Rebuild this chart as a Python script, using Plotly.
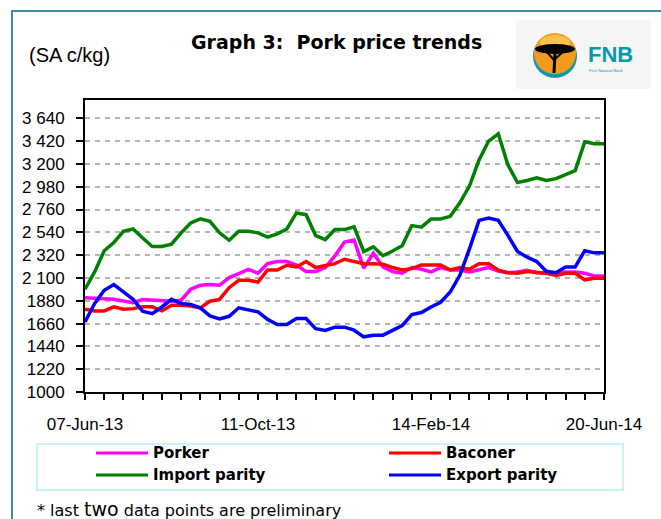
import pandas as pd
import plotly.graph_objects as go

# ---------------- data ----------------
start_date = "2013-06-07"
n_weeks = 55
dates = pd.date_range(start_date, periods=n_weeks, freq="7D")

porker = [1910, 1907, 1901, 1894, 1878, 1862, 1891, 1885, 1875, 1875,
          1885, 1991, 2029, 2036, 2029, 2103, 2141, 2183, 2145, 2238,
          2258, 2258, 2225, 2161, 2161, 2200, 2312, 2447, 2466, 2193,
          2338, 2206, 2161, 2145, 2200, 2184, 2158, 2200, 2177, 2177,
          2158, 2177, 2200, 2167, 2151, 2158, 2174, 2151, 2145, 2145,
          2158, 2158, 2145, 2119, 2119]

baconer = [1798, 1782, 1782, 1821, 1798, 1804, 1821, 1821, 1782, 1837,
           1837, 1830, 1811, 1875, 1893, 2006, 2077, 2077, 2061, 2177,
           2177, 2222, 2206, 2258, 2200, 2222, 2238, 2280, 2255, 2238,
           2238, 2232, 2200, 2177, 2190, 2225, 2225, 2225, 2177, 2200,
           2184, 2238, 2238, 2174, 2151, 2145, 2161, 2151, 2145, 2125,
           2145, 2145, 2080, 2096, 2096]

import_parity = [1991, 2158, 2362, 2442, 2550, 2572, 2485, 2403, 2403, 2425,
                 2535, 2630, 2670, 2645, 2535, 2463, 2550, 2550, 2535, 2494,
                 2525, 2572, 2727, 2710, 2509, 2470, 2566, 2566, 2592, 2355,
                 2400, 2314, 2360, 2410, 2605, 2590, 2668, 2668, 2694, 2824,
                 2986, 3238, 3420, 3490, 3190, 3020, 3040, 3065, 3040, 3058,
                 3096, 3135, 3414, 3395, 3395]

export_parity = [1676, 1853, 1981, 2036, 1965, 1894, 1779, 1756, 1820, 1894,
                 1853, 1843, 1811, 1734, 1705, 1730, 1812, 1790, 1773, 1700,
                 1650, 1650, 1708, 1708, 1610, 1593, 1625, 1625, 1596, 1532,
                 1548, 1548, 1593, 1640, 1747, 1766, 1820, 1866, 1964, 2125,
                 2380, 2655, 2678, 2655, 2510, 2355, 2300, 2258, 2164, 2150,
                 2206, 2206, 2363, 2342, 2342]

series_names = ["Porker", "Baconer", "Import parity", "Export parity"]
series_values = [porker, baconer, import_parity, export_parity]
series_colors = ["#ff00ff", "#ff0000", "#008000", "#0000ff"]

y_tick_values = [1000, 1220, 1440, 1660, 1880, 2100, 2320, 2540, 2760, 2980, 3200, 3420, 3640]
y_tick_labels = ["1000", "1220", "1440", "1660", "1880", "2 100", "2 320", "2 540",
                 "2 760", "2 980", "3 200", "3 420", "3 640"]
x_label_weeks = [0, 18, 36, 54]

title_text = "Graph 3:  Pork price trends"
unit_text = "(SA c/kg)"
footnote_html = "* last <span style='font-size:19px'>two</span> data points are preliminary"

# ---------------- geometry helpers ----------------
W, H = 661, 519
L, R, T, B = 85, 604, 100, 392


def px(x):
    return (x - L) / (R - L)


def py(y):
    return (B - y) / (B - T)


fig = go.Figure()
for name, vals, col in zip(series_names, series_values, series_colors):
    fig.add_trace(go.Scatter(x=dates, y=vals, mode="lines", name=name,
                             line=dict(color=col, width=3.5), showlegend=False))

x_tickvals = list(dates[::2])
x_ticktext = [dates[i].strftime("%d-%b-%y") if i in x_label_weeks else "" for i in range(0, n_weeks, 2)]

tick_font = dict(family="Liberation Sans, Arial, sans-serif", size=17, color="black")

fig.update_xaxes(
    type="date", range=[dates[0], dates[-1]],
    tickmode="array", tickvals=x_tickvals, ticktext=x_ticktext,
    ticks="outside", ticklen=6, tickwidth=1.5, tickcolor="black",
    showline=True, linecolor="black", linewidth=2, mirror=True,
    showgrid=False, zeroline=False, tickfont=tick_font, ticklabelstandoff=10,
)
fig.update_yaxes(
    range=[1000, 3816],
    tickmode="array", tickvals=y_tick_values, ticktext=y_tick_labels,
    ticks="outside", ticklen=7, tickwidth=1.5, tickcolor="black",
    showline=True, linecolor="black", linewidth=2, mirror=True,
    showgrid=True, gridcolor="#b4b4b4", gridwidth=2, griddash="5px,5px",
    zeroline=False, tickfont=tick_font, ticklabelstandoff=8,
)

shapes = []
annotations = []

# outer frame
shapes.append(dict(type="rect", xref="paper", yref="paper", x0=px(12), x1=px(720),
                   y0=py(11), y1=py(580), line=dict(color="#3d8fa3", width=2), layer="below"))

# logo
shapes.append(dict(type="rect", xref="paper", yref="paper", x0=px(516), x1=px(651),
                   y0=py(20), y1=py(89), fillcolor="#f6f6f6", line=dict(width=0), layer="below"))
shapes.append(dict(type="circle", xref="paper", yref="paper", x0=px(533), x1=px(577),
                   y0=py(34), y1=py(78), fillcolor="#0b98ad", line=dict(width=0)))
shapes.append(dict(type="circle", xref="paper", yref="paper", x0=px(534), x1=px(576),
                   y0=py(33), y1=py(74), fillcolor="#f49a1c", line=dict(width=0)))
shapes.append(dict(type="circle", xref="paper", yref="paper", x0=px(540), x1=px(570),
                   y0=py(35), y1=py(50), fillcolor="#fbc24a", line=dict(width=0)))
shapes.append(dict(type="circle", xref="paper", yref="paper", x0=px(535), x1=px(575),
                   y0=py(44), y1=py(54), fillcolor="black", line=dict(width=0)))
shapes.append(dict(type="line", xref="paper", yref="paper", x0=px(555), x1=px(554),
                   y0=py(52), y1=py(73), line=dict(color="black", width=3)))
shapes.append(dict(type="line", xref="paper", yref="paper", x0=px(554), x1=px(546),
                   y0=py(60), y1=py(51), line=dict(color="black", width=2)))
shapes.append(dict(type="line", xref="paper", yref="paper", x0=px(555), x1=px(564),
                   y0=py(59), y1=py(51), line=dict(color="black", width=2)))

annotations.append(dict(xref="paper", yref="paper", x=px(586), y=py(55), xanchor="left",
                        yanchor="middle", text="<b>FNB</b>", showarrow=False,
                        font=dict(family="Liberation Sans, Arial, sans-serif", size=22, color="#0b98ad")))
annotations.append(dict(xref="paper", yref="paper", x=px(587), y=py(70), xanchor="left",
                        yanchor="middle", text="First National Bank", showarrow=False,
                        font=dict(family="Liberation Sans, Arial, sans-serif", size=4, color="#0b98ad")))

# title and unit
annotations.append(dict(xref="paper", yref="paper", x=px(336), y=py(42), xanchor="center",
                        yanchor="middle", text="<b>" + title_text + "</b>", showarrow=False,
                        font=dict(family="DejaVu Sans, sans-serif", size=19, color="black")))
annotations.append(dict(xref="paper", yref="paper", x=px(27), y=py(55), xanchor="left",
                        yanchor="middle", text=unit_text, showarrow=False,
                        font=dict(family="Liberation Sans, Arial, sans-serif", size=20, color="black")))

# legend (drawn)
shapes.append(dict(type="rect", xref="paper", yref="paper", x0=px(37), x1=px(623),
                   y0=py(444), y1=py(490), line=dict(color="#c8f4f8", width=2)))
legend_pos = [(96, 453), (389, 453), (96, 475), (389, 475)]
for (lx, ly), name, col in zip(legend_pos, series_names, series_colors):
    shapes.append(dict(type="line", xref="paper", yref="paper", x0=px(lx), x1=px(lx + 52),
                       y0=py(ly), y1=py(ly), line=dict(color=col, width=3)))
    annotations.append(dict(xref="paper", yref="paper", x=px(lx + 55), y=py(ly), xanchor="left",
                            yanchor="middle", text="<b>" + name + "</b>", showarrow=False,
                            font=dict(family="DejaVu Sans, sans-serif", size=15, color="black")))

# footnote
annotations.append(dict(xref="paper", yref="paper", x=px(35), y=py(509), xanchor="left",
                        yanchor="middle", text=footnote_html, showarrow=False,
                        font=dict(family="DejaVu Sans, sans-serif", size=16, color="black")))

fig.update_layout(
    width=W, height=H,
    margin=dict(l=L, r=W - R, t=T, b=H - B, pad=0),
    paper_bgcolor="white", plot_bgcolor="white",
    shapes=shapes, annotations=annotations, showlegend=False,
)

fig.write_html("out.html", config={"displayModeBar": False},
               post_script="document.body.style.margin='0px';document.body.style.overflow='hidden';")
